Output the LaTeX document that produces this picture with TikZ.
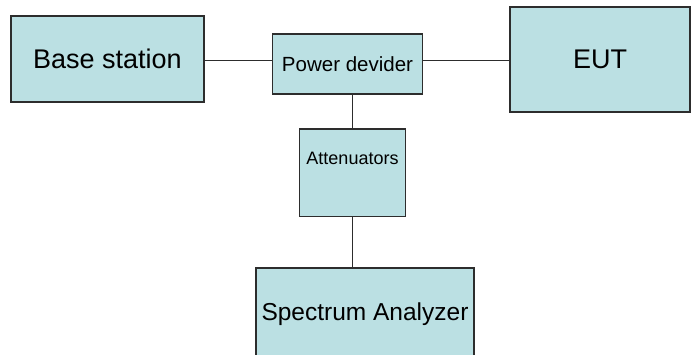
\documentclass[tikz,border=0pt]{standalone}
\usepackage{fontspec}
\setmainfont{Liberation Sans}
\definecolor{boxfill}{RGB}{187,224,227}
\definecolor{boxline}{RGB}{45,45,45}
\begin{document}
\begin{tikzpicture}[x=1pt,y=-1pt,
  blk/.style={draw=boxline,fill=boxfill,line width=1.3pt,inner sep=0pt,outer sep=0pt,rectangle},
  wire/.style={draw=boxline,line width=1.3pt}]
\useasboundingbox (0,0) rectangle (691,354);
\clip (0,0) rectangle (691,354);
\node[blk,minimum width=193pt,minimum height=86pt,font=\fontsize{27}{30}\selectfont] (base) at (107.5,59) {Base station};
\node[blk,minimum width=150pt,minimum height=60pt,font=\fontsize{20.5}{24}\selectfont] (pd) at (347.5,64) {Power devider};
\node[blk,minimum width=180pt,minimum height=105pt,font=\fontsize{27}{30}\selectfont] (eut) at (600,59.5) {EUT};
\node[blk,minimum width=106pt,minimum height=87.5pt,
  label={[anchor=center,yshift=-29pt,font=\fontsize{18}{20}\selectfont]north:Attenuators}] (att) at (352.5,172.75) {};
\node[blk,minimum width=218pt,minimum height=92pt,font=\fontsize{24.5}{28}\selectfont] (spec) at (365,314) {\raisebox{-2pt}{Spectrum Analyzer}};
\draw[wire] ([yshift=-1.5pt]base.east) -- ([yshift=-1.5pt]base.east -| pd.west);
\draw[wire] ([yshift=-1pt]eut.west -| pd.east) -- ([yshift=-1pt]eut.west);
\draw[wire] (att.north) -- (att.north |- pd.south);
\draw[wire] (att.south) -- (spec.north -| att.south);
\end{tikzpicture}
\end{document}
